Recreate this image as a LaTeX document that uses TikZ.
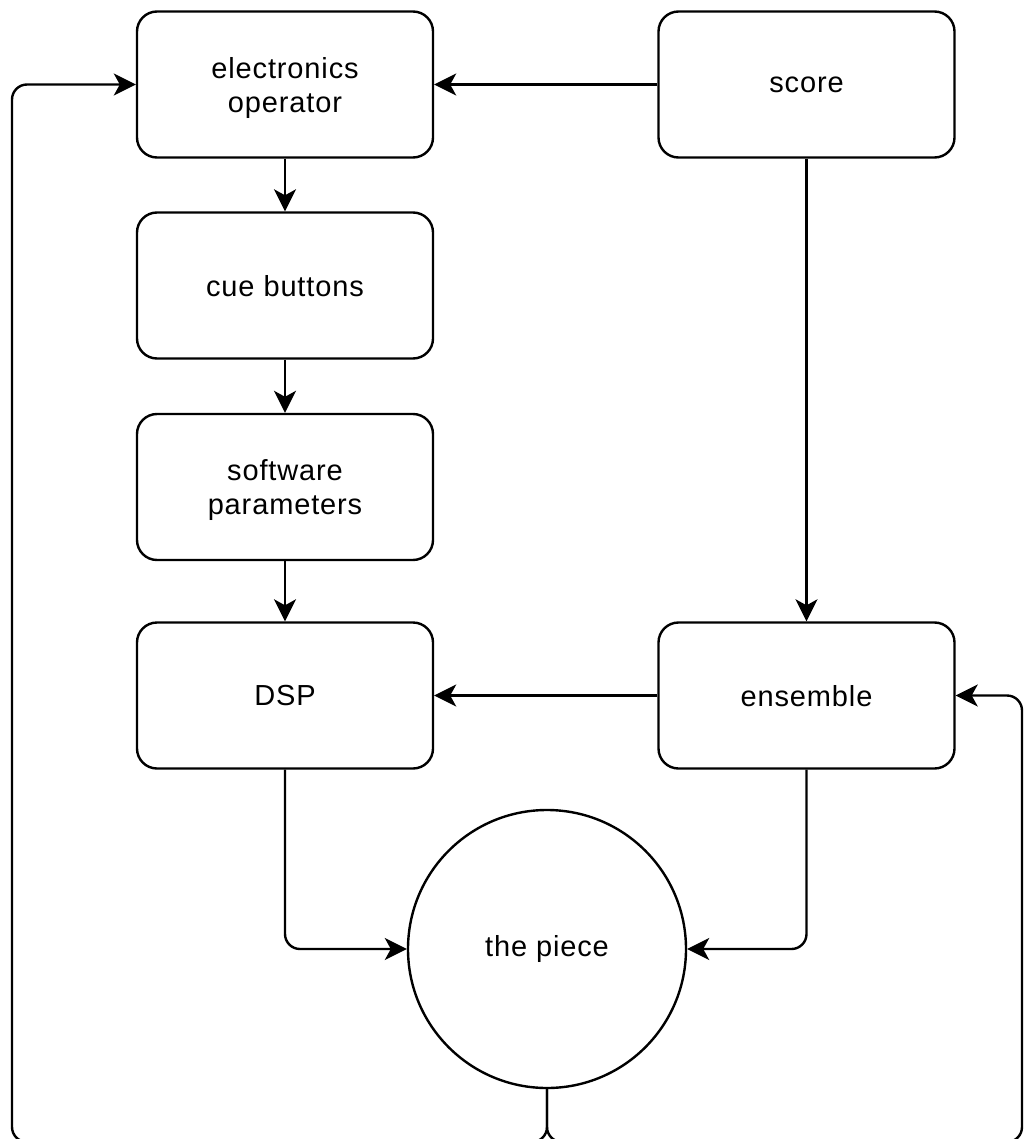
\documentclass[tikz,border=0pt]{standalone}
\usepackage{fontspec}
\setmainfont{Liberation Sans}[LetterSpace=3]
\usetikzlibrary{arrows.meta}
\begin{document}
\begin{tikzpicture}[x=1pt,y=-1pt,
  box/.style={draw, line width=2.4pt, rounded corners=20pt, minimum width=296pt,
    minimum height=146pt, align=center, inner sep=0pt, text depth=0pt,
    font=\fontsize{29}{34}\selectfont},
  piecenode/.style={draw, circle, line width=2.4pt, minimum size=278pt, inner sep=0pt,
    font=\fontsize{29}{34}\selectfont},
  arr/.style={line width=2.4pt, rounded corners=15pt,
    -{Stealth[length=22pt,width=22pt,inset=6pt]}}]
\useasboundingbox (0,0) rectangle (1024,1139);
\clip (0,0) rectangle (1024,1139);
% blocks
\node[box] (eo) at (285,84.5) {electronics\\operator};
\node[box] (score) at (806.5,84.5) {score};
\node[box] (cue) at (285,285.5) {cue buttons};
\node[box] (sw) at (285,487) {software\\parameters};
\node[box] (dsp) at (285,695.5) {DSP};
\node[box] (ens) at (806.5,695.5) {ensemble};
\node[piecenode] (piece) at (547,949) {the piece};
% feedback routing points
\coordinate (fork) at (547,1142);
\coordinate (lb) at (12,1142);
\coordinate (rb) at (1022,1142);
% signal flow
\draw[arr] (score) -- (eo);
\draw[arr] (eo) -- (cue);
\draw[arr] (cue) -- (sw);
\draw[arr] (sw) -- (dsp);
\draw[arr] (score) -- (ens);
\draw[arr] (ens) -- (dsp);
\draw[arr] (dsp.south) |- (piece.west);
\draw[arr] (ens.south) |- (piece.east);
% feedback from the piece
\draw[arr] (piece.south) -- (fork) -- (lb) |- (eo.west);
\draw[arr] (piece.south) -- (fork) -- (rb) |- (ens.east);
\end{tikzpicture}
\end{document}
